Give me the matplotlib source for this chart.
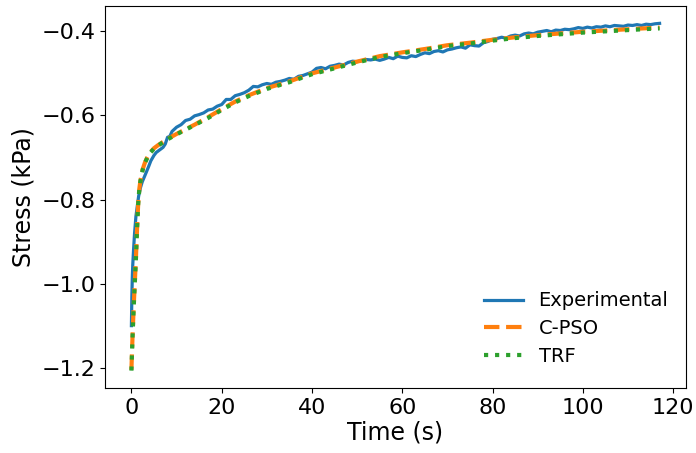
import matplotlib
matplotlib.use("Agg")
import matplotlib.pyplot as plt

# Experimental data (time in s, stress in kPa)
exp_time = [0, 0.1, 0.2, 0.3, 0.5, 0.7, 1.0, 1.3, 1.6, 2.0, 2.4, 2.8, 3.3, 3.8, 4.3,
            5.0, 5.5, 6.0, 6.5, 7.0, 7.5, 8.0, 8.5, 9.0, 9.5, 10,
            11, 12, 13, 14, 15, 16, 17, 18, 19, 20,
            21, 22, 23, 24, 25, 26, 27, 28, 29, 30,
            31, 32, 33, 34, 35, 36, 37, 38, 39, 40,
            41, 42, 43, 44, 45, 46, 47, 48, 49, 50,
            51, 52, 53, 54, 55, 56, 57, 58, 59, 60,
            61, 62, 63, 64, 65, 66, 67, 68, 69, 70,
            71, 72, 73, 74, 75, 76, 77, 78, 79, 80,
            81, 82, 83, 84, 85, 86, 87, 88, 89, 90,
            91, 92, 93, 94, 95, 96, 97, 98, 99, 100,
            101, 102, 103, 104, 105, 106, 107, 108, 109, 110,
            111, 112, 113, 114, 115, 116, 117]
exp_stress = [-1.100, -1.030, -0.985, -0.955, -0.915, -0.880, -0.840, -0.815, -0.792,
              -0.772, -0.758, -0.748, -0.735, -0.722, -0.708,
              -0.695, -0.688, -0.684, -0.680, -0.676, -0.668, -0.652, -0.650, -0.638, -0.633, -0.628,
              -0.622, -0.612, -0.609, -0.601, -0.598, -0.594, -0.587, -0.585, -0.578, -0.574,
              -0.562, -0.562, -0.553, -0.550, -0.546, -0.540, -0.531, -0.532, -0.527, -0.524,
              -0.526, -0.521, -0.519, -0.516, -0.512, -0.514, -0.507, -0.505, -0.501, -0.497,
              -0.488, -0.486, -0.489, -0.483, -0.481, -0.478, -0.480, -0.474, -0.471, -0.472,
              -0.470, -0.467, -0.468, -0.466, -0.469, -0.466, -0.462, -0.465, -0.459, -0.462,
              -0.463, -0.458, -0.460, -0.455, -0.451, -0.453, -0.448, -0.446, -0.449, -0.444,
              -0.442, -0.439, -0.437, -0.440, -0.432, -0.434, -0.435, -0.427, -0.424, -0.419,
              -0.417, -0.414, -0.416, -0.411, -0.409, -0.411, -0.406, -0.404, -0.406, -0.402,
              -0.400, -0.398, -0.401, -0.397, -0.398, -0.395, -0.396, -0.394, -0.391, -0.393,
              -0.390, -0.392, -0.389, -0.390, -0.387, -0.389, -0.386, -0.387, -0.388, -0.385,
              -0.386, -0.384, -0.386, -0.383, -0.384, -0.382, -0.381]

# Model fits
fit_time = [0, 0.25, 0.5, 0.75, 1.0, 1.25, 1.5, 1.75, 2, 2.5, 3, 3.5, 4, 5, 6, 7, 8,
            10, 12, 14, 17, 20, 23, 26, 30, 35, 40, 45, 50, 55, 60, 65, 70, 75, 80,
            85, 90, 95, 100, 105, 110, 115, 117]
cpso_stress = [-1.205, -1.125, -1.056, -0.998, -0.940, -0.870, -0.810, -0.775, -0.755,
               -0.728, -0.712, -0.700, -0.690, -0.678, -0.670, -0.663, -0.656,
               -0.644, -0.633, -0.622, -0.604, -0.585, -0.567, -0.552, -0.535, -0.519,
               -0.500, -0.486, -0.472, -0.459, -0.450, -0.442, -0.433, -0.427, -0.420,
               -0.414, -0.409, -0.405, -0.401, -0.398, -0.395, -0.392, -0.391]
trf_stress = [-1.207, -1.127, -1.058, -0.999, -0.941, -0.871, -0.811, -0.776, -0.756,
              -0.729, -0.713, -0.701, -0.691, -0.679, -0.671, -0.664, -0.657,
              -0.645, -0.634, -0.623, -0.606, -0.587, -0.569, -0.554, -0.537, -0.521,
              -0.502, -0.488, -0.474, -0.461, -0.452, -0.444, -0.435, -0.429, -0.422,
              -0.416, -0.411, -0.407, -0.403, -0.400, -0.397, -0.394, -0.393]

fig = plt.figure(figsize=(6.96, 4.53), dpi=100)
ax = fig.add_axes([105/696, 1-388/453, (686-105)/696, (388-6)/453])

ax.plot(exp_time, exp_stress, color="#1f77b4", lw=2.3, label="Experimental")
ax.plot(fit_time, cpso_stress, color="#ff7f0e", lw=3, ls="--", label="C-PSO")
ax.plot(fit_time, trf_stress, color="#2ca02c", lw=3, ls=":", label="TRF")

ax.set_xlabel("Time (s)", fontsize=17, labelpad=2)
ax.set_ylabel("Stress (kPa)", fontsize=17)
ax.tick_params(labelsize=16)
ax.set_xticks([0, 20, 40, 60, 80, 100, 120])
ax.set_yticks([-1.2, -1.0, -0.8, -0.6, -0.4])
ax.legend(loc="lower right", bbox_to_anchor=(1.0, 0.012), frameon=False,
          fontsize=14, labelspacing=0.45)

fig.savefig("out.png", dpi=100)
